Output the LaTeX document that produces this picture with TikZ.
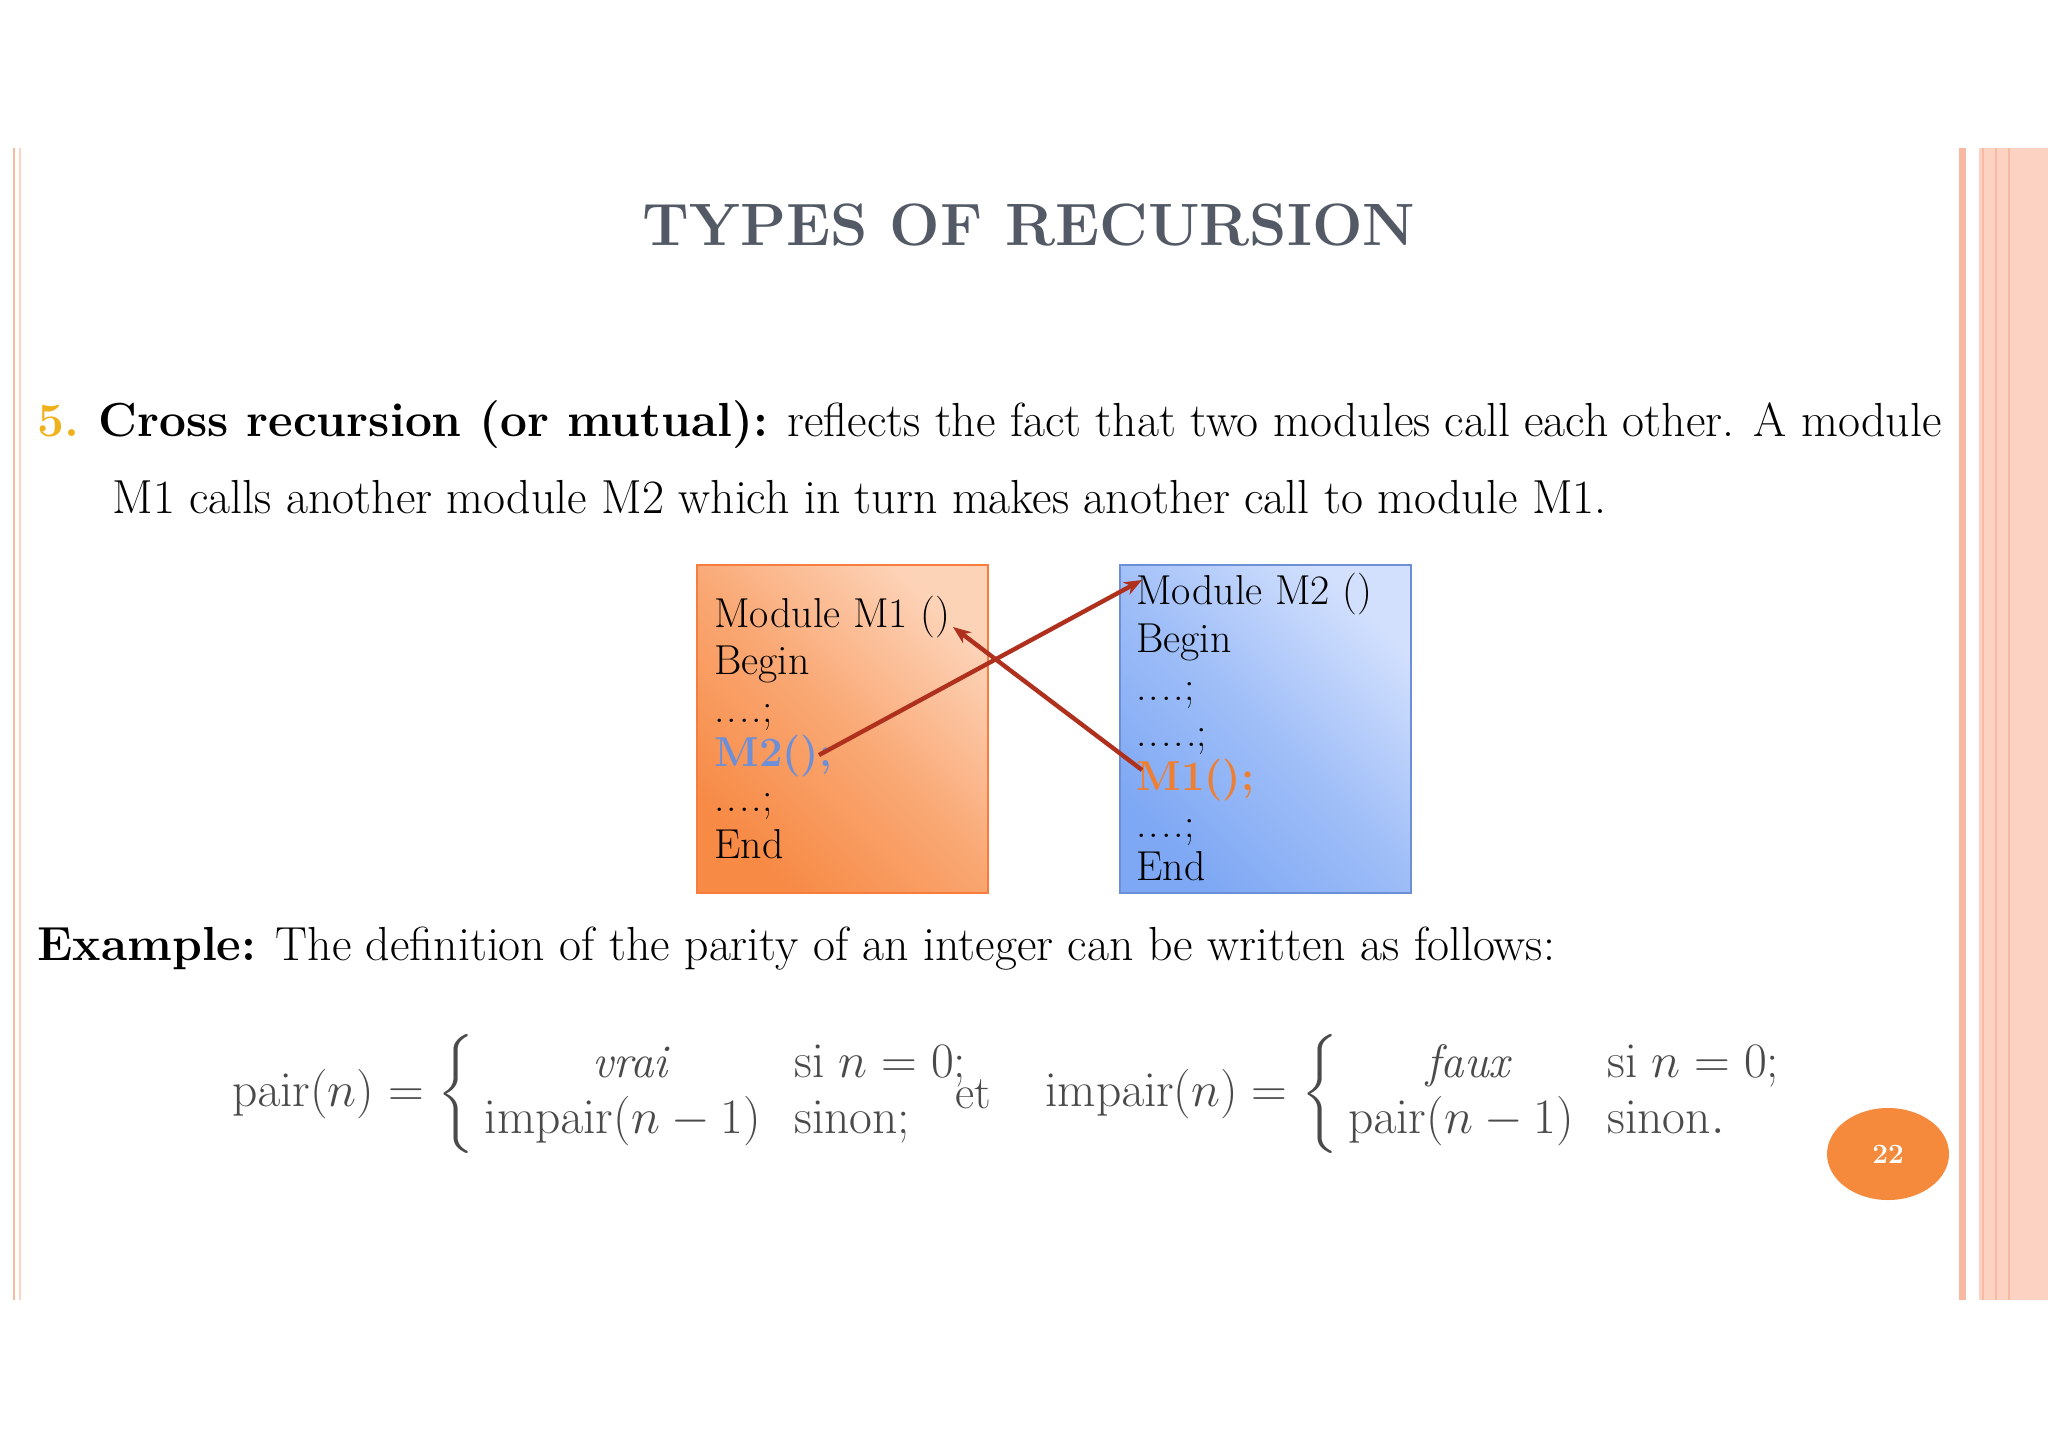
\documentclass[tikz,border=0pt]{standalone}
\usepackage{amsmath}
\usetikzlibrary{arrows.meta,shapes.geometric}
\begin{document}
\begin{tikzpicture}[x=0.5bp,y=-0.5bp,
  body/.style={anchor=base west,inner sep=0pt,font=\fontsize{24}{28}\selectfont},
  code/.style={anchor=base west,inner sep=0pt,font=\fontsize{21}{24}\selectfont},
  mathtxt/.style={inner sep=0pt,text=mathgray,font=\fontsize{23.5}{28}\selectfont},
  callarrow/.style={draw=arrowred,line width=2.2pt,-{Stealth[length=9pt,width=7pt]}},
  every node/.style={text=black}]
\definecolor{titlegray}{HTML}{535A66}
\definecolor{numyellow}{HTML}{F0B21C}
\definecolor{arrowred}{HTML}{B0301E}
\definecolor{orgA}{HTML}{F78A45}
\definecolor{orgB}{HTML}{FDD3B8}
\definecolor{bluA}{HTML}{7EA8F4}
\definecolor{bluB}{HTML}{D2E0FD}
\definecolor{m2blue}{HTML}{6D8FD8}
\definecolor{m1orange}{HTML}{F07E30}
\definecolor{salmon}{HTML}{F8B9A2}
\definecolor{salmonlight}{HTML}{FCD3C2}
\definecolor{mathgray}{HTML}{4A4A4A}
\definecolor{pageorange}{HTML}{F58A3C}
\useasboundingbox (0,0) rectangle (2048,1447);
\fill[white] (0,0) rectangle (2048,1447);
% side borders
\draw[salmon,line width=1.5pt] (14,148) -- (14,1300);
\draw[salmonlight,line width=1pt] (20,148) -- (20,1300);
\fill[salmon] (1959,148) rectangle (1966,1300);
\fill[salmonlight] (1979,148) rectangle (2048,1300);
\foreach \xx in {1983,1996,2009} \draw[salmon,line width=0.8pt] (\xx,148) -- (\xx,1300);
% title
\node[inner sep=0pt,text=titlegray,font=\fontsize{30}{34}\selectfont\bfseries] (title) at (1029,225) {TYPES OF RECURSION};
% paragraph
\node[body] (l1) at (37,436) {\makebox[952bp][s]{\textcolor{numyellow}{\textbf{5.}} \textbf{Cross recursion (or mutual):} reflects the fact that two modules call each other. A module}};
\node[body] (l2) at (112,513) {M1 calls another module M2 which in turn makes another call to module M1.};
% boxes
\shade[top color=orgA,bottom color=orgB,middle color=orgA!60!orgB,shading angle=135] (697,565) rectangle (988,893);
\draw[orgA!90!red,line width=1.2pt] (697,565) rectangle (988,893);
\shade[top color=bluA,bottom color=bluB,middle color=bluA!60!bluB,shading angle=135] (1120,565) rectangle (1411,893);
\draw[m2blue,line width=1pt] (1120,565) rectangle (1411,893);
\node[code] (a1) at (714,627) {Module M1 ()};
\node[code] (a2) at (714,674) {Begin};
\node[code] (a3) at (714,722) {.\kern1pt.\kern1pt.\kern1pt.;};
\node[code,text=m2blue] (a4) at (714,766) {\textbf{M2();}};
\node[code] (a5) at (714,811) {.\kern1pt.\kern1pt.\kern1pt.;};
\node[code] (a6) at (714,858) {End};
\node[code] (b1) at (1136,604) {Module M2 ()};
\node[code] (b2) at (1136,652) {Begin};
\node[code] (b3) at (1136,700) {.\kern1pt.\kern1pt.\kern1pt.;};
\node[code] (b4) at (1136,746) {.\kern1pt.\kern1pt.\kern1pt.\kern1pt.;};
\node[code,text=m1orange] (b5) at (1136,790) {\textbf{M1();}};
\node[code] (b6) at (1136,837) {.\kern1pt.\kern1pt.\kern1pt.;};
\node[code] (b7) at (1136,880) {End};
\coordinate (m2call) at (819,755);
\coordinate (m2head) at (1142,580);
\coordinate (m1call) at (1142,770);
\coordinate (m1head) at (953,627);
\draw[callarrow] (m2call) -- (m2head);
\draw[callarrow] (m1call) -- (m1head);
% example
\node[body] (ex) at (37,960) {\textbf{Example:} The definition of the parity of an integer can be written as follows:};
% formulas
\node[mathtxt,anchor=west] (f1) at (232,1094)
 {$\mathrm{pair}(n)=\left\{\begin{array}{cl}\textit{vrai} & \mathrm{si}\ n=0;\\ \mathrm{impair}(n-1)\; & \mathrm{sinon};\end{array}\right.$};
\node[mathtxt] (et) at (973,1094) {et};
\node[mathtxt,anchor=west] (f2) at (1045,1094)
 {$\mathrm{impair}(n)=\left\{\begin{array}{cl}\textit{faux} & \mathrm{si}\ n=0;\\ \mathrm{pair}(n-1)\; & \mathrm{sinon}.\end{array}\right.$};
% page number
\node[ellipse,fill=pageorange,minimum width=61bp,minimum height=46bp,inner sep=0pt,text=white,font=\fontsize{14}{16}\selectfont\bfseries] (pg) at (1888,1154) {22};
\end{tikzpicture}
\end{document}
